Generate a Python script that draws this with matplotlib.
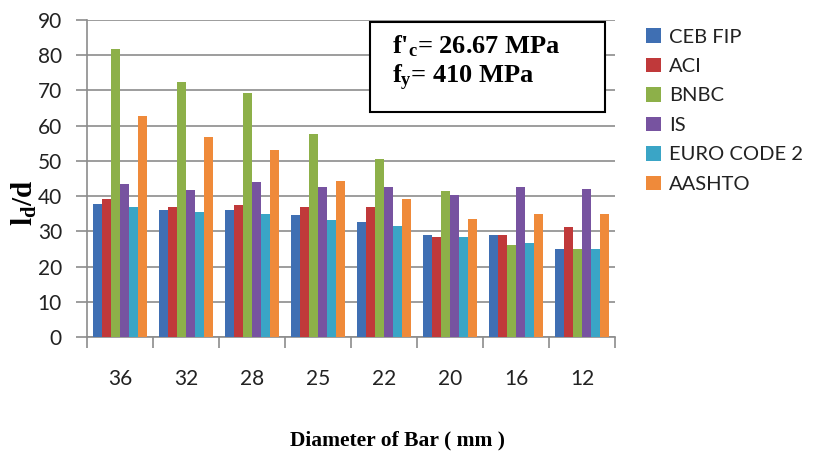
import numpy as np
import matplotlib.pyplot as plt
from matplotlib.patches import Rectangle

# bar diameters (mm) and ld/d from each code
diameters = ["36", "32", "28", "25", "22", "20", "16", "12"]
ceb_fip = [37.8, 36.0, 36.0, 34.5, 32.7, 29.0, 29.0, 25.0]
aci = [39.2, 36.8, 37.4, 37.0, 37.0, 28.3, 29.0, 31.2]
bnbc = [81.7, 72.5, 69.2, 57.6, 50.5, 41.5, 26.0, 25.0]
is_code = [43.3, 41.8, 44.0, 42.5, 42.5, 40.4, 42.5, 42.1]
euro_code2 = [37.0, 35.6, 34.9, 33.1, 31.4, 28.3, 26.8, 25.0]
aashto = [62.7, 56.8, 53.1, 44.4, 39.2, 33.5, 34.9, 34.9]

series = [("CEB FIP", ceb_fip), ("ACI", aci), ("BNBC", bnbc), ("IS", is_code),
          ("EURO CODE 2", euro_code2), ("AASHTO", aashto)]
colors = ["#3f6fb3", "#c0393a", "#8db049", "#7753a0", "#3aa5c6", "#ef8a3a"]

plt.rcParams['mathtext.fontset'] = 'custom'
plt.rcParams['mathtext.rm'] = 'Liberation Serif:bold'
plt.rcParams['mathtext.it'] = 'Liberation Serif:bold'
plt.rcParams['mathtext.bf'] = 'Liberation Serif:bold'

W, H = 817, 458
fig = plt.figure(figsize=(W / 100, H / 100), dpi=100)
ax = fig.add_axes([87 / W, 1 - 337 / H, (615 - 87) / W, (337 - 20) / H])

x = np.arange(len(diameters))
w = 0.135
for j, (name, vals) in enumerate(series):
    ax.bar(x + (j - 2.5) * w, vals, w, color=colors[j], label=name, zorder=3)

ax.set_xlim(-0.5, len(diameters) - 0.5)
ax.set_ylim(0, 90)
ax.set_yticks(np.arange(0, 91, 10))
ax.yaxis.grid(True, color="#8c8c8c", lw=1.2, zorder=0)

# major ticks at group boundaries, labels on minor ticks at centres
ax.set_xticks(np.arange(-0.5, len(diameters), 1.0))
ax.set_xticklabels([])
ax.set_xticks(x, minor=True)
ax.set_xticklabels(diameters, minor=True)
ax.tick_params(axis='x', which='major', length=8, color="#8c8c8c", width=1.2)
ax.tick_params(axis='x', which='minor', length=0, pad=23)
ax.tick_params(axis='y', length=8, color="#8c8c8c", width=1.2, pad=10)
for lab in ax.get_xticklabels(minor=True) + ax.get_yticklabels():
    lab.set_fontfamily('Lato')
    lab.set_fontsize(15)
    lab.set_color('#222222')

for s in ["top", "right"]:
    ax.spines[s].set_visible(False)
for s in ["left", "bottom"]:
    ax.spines[s].set_color("#8c8c8c")
    ax.spines[s].set_linewidth(1.2)

leg = fig.legend(*ax.get_legend_handles_labels(), loc='upper left',
                 bbox_to_anchor=(628 / W, 1 - 10 / H), frameon=False,
                 prop={'family': 'Lato', 'size': 14.5}, handlelength=0.75,
                 handleheight=0.75, handletextpad=0.4, labelspacing=0.6)
for t in leg.get_texts():
    t.set_color('#222222')

# parameter box
fig.patches.append(Rectangle((370 / W, 1 - 112 / H), 235 / W, 90 / H,
                             transform=fig.transFigure, facecolor='white',
                             edgecolor='black', lw=1.5, zorder=5))
fig.text(392 / W, 1 - 33 / H,
         "f'$_\\mathrm{c}$= 26.67 MPa\nf$_\\mathrm{y}$= 410 MPa",
         ha='left', va='top', fontsize=19, fontfamily='Liberation Serif',
         fontweight='bold', linespacing=1.2, zorder=6)

fig.text(397 / W, 1 - 440 / H, "Diameter of Bar ( mm )", ha='center',
         va='center', fontsize=15.5, fontfamily='Liberation Serif',
         fontweight='bold')
fig.text(24 / W, 1 - 203 / H, "l$_\\mathrm{d}$/d", ha='center', va='center',
         rotation=90, fontsize=21, fontfamily='Liberation Serif',
         fontweight='bold')

fig.savefig("out.png", dpi=100)
